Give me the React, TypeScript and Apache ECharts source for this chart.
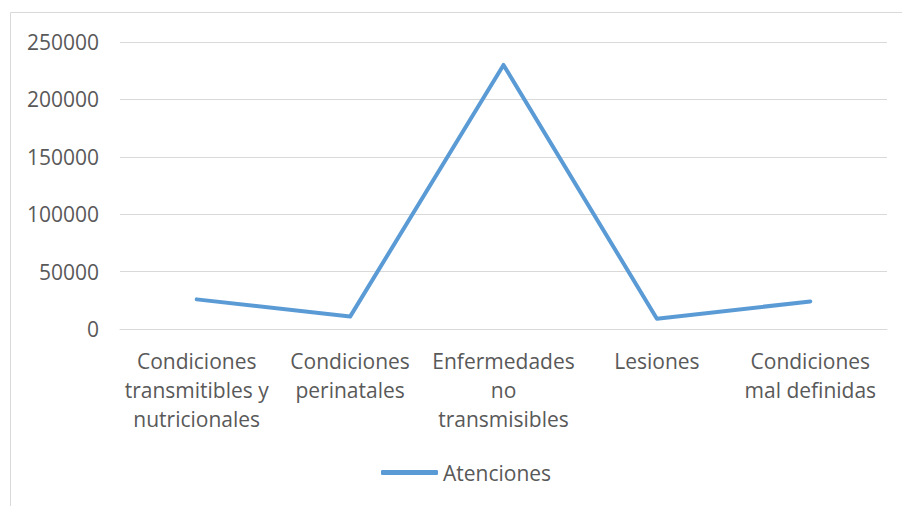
import React, { useEffect, useRef } from "react";
import * as echarts from "echarts";

const categories = [
  "Condiciones transmitibles y nutricionales",
  "Condiciones perinatales",
  "Enfermedades no transmisibles",
  "Lesiones",
  "Condiciones mal definidas",
];
const categoryLabels = [
  "Condiciones\ntransmitibles y\nnutricionales",
  "Condiciones\nperinatales",
  "Enfermedades\nno\ntransmisibles",
  "Lesiones",
  "Condiciones\nmal definidas",
];
const atenciones = [25800, 10800, 230000, 9000, 24000];
const seriesName = "Atenciones";

export default function App() {
  const ref = useRef<HTMLDivElement>(null);
  useEffect(() => {
    if (!ref.current) return;
    const chart = echarts.init(ref.current, undefined, { renderer: "svg" });
    const font = "'Open Sans', 'Noto Sans', sans-serif";
    chart.setOption({
      animation: false,
      textStyle: { fontFamily: font },
      graphic: [
        {
          type: "rect",
          shape: { x: 10.5, y: 12.5, width: 1000, height: 600 },
          style: { fill: "none", stroke: "#d9d9d9", lineWidth: 1 },
          silent: true,
        },
      ],
      grid: { left: 120, right: 15, top: 42, bottom: 177 },
      legend: {
        bottom: 18,
        left: 376,
        data: [seriesName],
        icon: "roundRect",
        itemWidth: 57,
        itemHeight: 5,
        itemGap: 4,
        textStyle: { fontSize: 21, color: "#595959", fontFamily: font },
      },
      xAxis: {
        type: "category",
        data: categories,
        boundaryGap: true,
        axisLine: { show: true, lineStyle: { color: "#d9d9d9", width: 1 } },
        axisTick: { show: false },
        axisLabel: {
          interval: 0,
          color: "#595959",
          fontSize: 21,
          lineHeight: 29,
          margin: 17,
          fontFamily: font,
          formatter: (_v: string, i: number) => categoryLabels[i],
        },
      },
      yAxis: {
        type: "value",
        min: 0,
        max: 250000,
        interval: 50000,
        axisLine: { show: false },
        axisTick: { show: false },
        splitLine: { lineStyle: { color: "#d9d9d9", width: 1 } },
        axisLabel: {
          color: "#595959",
          fontSize: 21,
          margin: 21,
          fontFamily: font,
          formatter: (v: number) => String(v),
        },
      },
      series: [
        {
          name: seriesName,
          type: "line",
          data: atenciones,
          showSymbol: false,
          symbol: "none",
          lineStyle: { color: "#5b9bd5", width: 4, cap: "round", join: "round" },
          itemStyle: { color: "#5b9bd5" },
        },
      ],
    });
    return () => chart.dispose();
  }, []);
  return (
    <div
      ref={ref}
      style={{ position: "fixed", left: 0, top: 0, width: 902, height: 506, background: "#fff" }}
    />
  );
}
